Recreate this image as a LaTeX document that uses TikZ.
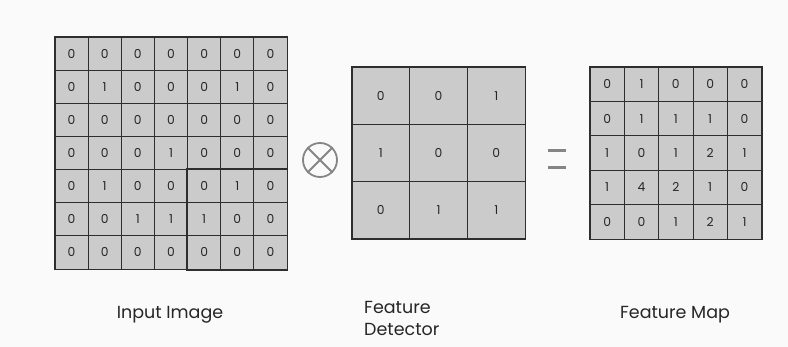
\documentclass[tikz,border=0pt]{standalone}
\usepackage{fontspec}
\setmainfont{Poppins}
\definecolor{bg}{HTML}{FAFAFA}
\definecolor{cellfill}{HTML}{CBCBCB}
\definecolor{gridline}{HTML}{2E2E2E}
\definecolor{opgray}{HTML}{858585}
\definecolor{txt}{HTML}{262626}
\begin{document}
\begin{tikzpicture}[x=1pt,y=-1pt,
  cell/.style={draw=gridline, line width=0.9pt, fill=cellfill, inner sep=0pt,
    font=\fontsize{12.3}{13}\selectfont, text=txt},
  biglabel/.style={font=\fontsize{17.5}{21.7}\selectfont, text=txt, inner sep=0pt},
  frame/.style={draw=gridline, line width=1.3pt},
  opline/.style={draw=opgray, line width=1.8pt}]
\fill[bg] (0,0) rectangle (788,347);
\useasboundingbox (0,0) rectangle (788,347);

% Input image 7x7
\foreach \row [count=\r from 0] in {{0,0,0,0,0,0,0},{0,1,0,0,0,1,0},{0,0,0,0,0,0,0},{0,0,0,1,0,0,0},{0,1,0,0,0,1,0},{0,0,1,1,1,0,0},{0,0,0,0,0,0,0}}{
  \foreach \v [count=\c from 0] in \row {
    \node[cell, minimum width=33.14pt, minimum height=33.14pt] (in-\r-\c) at ({55+(\c+0.5)*33.14},{37+(\r+0.5)*33.14}) {\v};
  }
}
\draw[frame] (in-0-0.north west) rectangle (in-6-6.south east);
\draw[frame, line width=1.6pt] (in-4-4.north west) rectangle ([yshift=-1pt]in-6-6.south east);

% Feature detector 3x3
\foreach \row [count=\r from 0] in {{0,0,1},{1,0,0},{0,1,1}}{
  \foreach \v [count=\c from 0] in \row {
    \node[cell, minimum width=57.7pt, minimum height=57.3pt] (fd-\r-\c) at ({352+(\c+0.5)*57.7},{67+(\r+0.5)*57.3}) {\v};
  }
}
\draw[frame] (fd-0-0.north west) rectangle (fd-2-2.south east);

% Feature map 5x5
\foreach \row [count=\r from 0] in {{0,1,0,0,0},{0,1,1,1,0},{1,0,1,2,1},{1,4,2,1,0},{0,0,1,2,1}}{
  \foreach \v [count=\c from 0] in \row {
    \node[cell, minimum width=34.33pt, minimum height=34.4pt] (fm-\r-\c) at ({590+(\c+0.5)*34.33},{67+(\r+0.5)*34.4}) {\v};
  }
}
\draw[frame] (fm-0-0.north west) rectangle (fm-4-4.south east);

% convolution operator
\node[circle, opline, minimum size=34pt, inner sep=0pt] (op) at (320,160) {};
\draw[opline] (op.north west) -- (op.south east);
\draw[opline] (op.north east) -- (op.south west);

% equals sign
\node[minimum width=18pt, minimum height=13.5pt, inner sep=0pt] (eq) at (557,159.2) {};
\fill[opgray] (eq.north west) rectangle ([yshift=3.3pt]eq.north east);
\fill[opgray] (eq.south west) rectangle ([yshift=-3.3pt]eq.south east);

% labels
\node[biglabel, anchor=base] (lin) at (170,319) {Input Image};
\node[biglabel, anchor=north west, align=left] (lfd) at (364,301) {Feature\\Detector};
\node[biglabel, anchor=base] (lfm) at (675,319) {Feature Map};
\end{tikzpicture}
\end{document}
